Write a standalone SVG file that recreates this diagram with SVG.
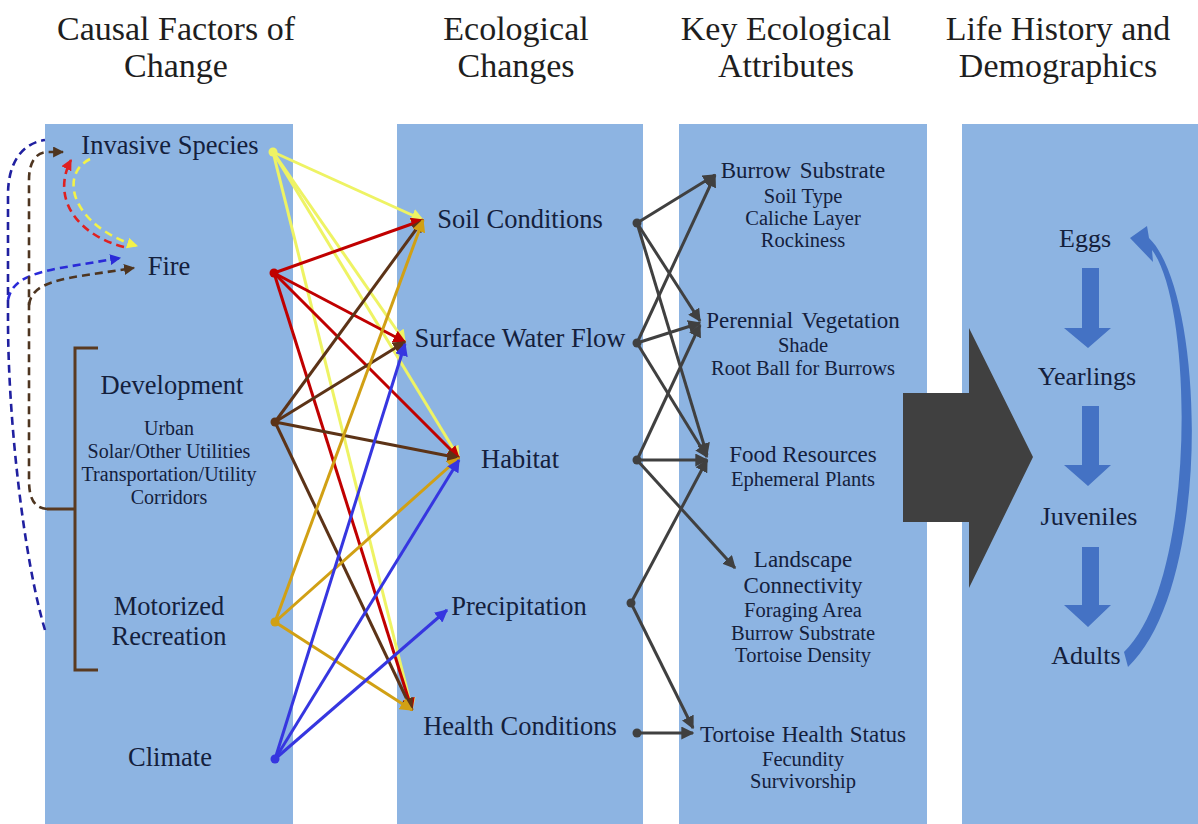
<svg xmlns="http://www.w3.org/2000/svg" width="1198" height="824" viewBox="0 0 1198 824">
<style>
.panel{fill:#8DB4E2}
text{font-family:"Liberation Serif","Times New Roman",serif;fill:#14203C;text-anchor:middle}
.hd{font-size:34px;fill:#1E1E1E}
.n1{font-size:26.5px}
.s1{font-size:20px}
.n3{font-size:23px}
.s3{font-size:20.5px}
.n4{font-size:26px}
.c{fill:none;stroke-width:3}
.dash{fill:none;stroke-width:2.6;stroke-dasharray:8 5}
</style>
<defs>
<marker id="mY" viewBox="0 0 10 10" refX="9" refY="5" markerUnits="userSpaceOnUse" markerWidth="13" markerHeight="13" orient="auto"><path d="M0,0 L10,5 L0,10 z" fill="#EEF364"/></marker>
<marker id="mR" viewBox="0 0 10 10" refX="9" refY="5" markerUnits="userSpaceOnUse" markerWidth="13" markerHeight="13" orient="auto"><path d="M0,0 L10,5 L0,10 z" fill="#C00000"/></marker>
<marker id="mB" viewBox="0 0 10 10" refX="9" refY="5" markerUnits="userSpaceOnUse" markerWidth="13" markerHeight="13" orient="auto"><path d="M0,0 L10,5 L0,10 z" fill="#5C3317"/></marker>
<marker id="mG" viewBox="0 0 10 10" refX="9" refY="5" markerUnits="userSpaceOnUse" markerWidth="13" markerHeight="13" orient="auto"><path d="M0,0 L10,5 L0,10 z" fill="#D1A014"/></marker>
<marker id="mU" viewBox="0 0 10 10" refX="9" refY="5" markerUnits="userSpaceOnUse" markerWidth="13" markerHeight="13" orient="auto"><path d="M0,0 L10,5 L0,10 z" fill="#3636E0"/></marker>
<marker id="mK" viewBox="0 0 10 10" refX="9" refY="5" markerUnits="userSpaceOnUse" markerWidth="13" markerHeight="13" orient="auto"><path d="M0,0 L10,5 L0,10 z" fill="#404040"/></marker>
<marker id="dU" viewBox="0 0 10 10" refX="9" refY="5" markerUnits="userSpaceOnUse" markerWidth="11" markerHeight="11" orient="auto"><path d="M0,0 L10,5 L0,10 z" fill="#2A2AD8"/></marker>
<marker id="dB" viewBox="0 0 10 10" refX="9" refY="5" markerUnits="userSpaceOnUse" markerWidth="11" markerHeight="11" orient="auto"><path d="M0,0 L10,5 L0,10 z" fill="#4E3520"/></marker>
<marker id="dR" viewBox="0 0 10 10" refX="9" refY="5" markerUnits="userSpaceOnUse" markerWidth="11" markerHeight="11" orient="auto"><path d="M0,0 L10,5 L0,10 z" fill="#E02020"/></marker>
<marker id="dY" viewBox="0 0 10 10" refX="9" refY="5" markerUnits="userSpaceOnUse" markerWidth="11" markerHeight="11" orient="auto"><path d="M0,0 L10,5 L0,10 z" fill="#F2F24A"/></marker>
</defs>
<rect width="1198" height="824" fill="#FFFFFF"/>

<g id="headers">
<text class="hd" x="176" y="40">Causal Factors of</text>
<text class="hd" x="176" y="77">Change</text>
<text class="hd" x="516" y="40">Ecological</text>
<text class="hd" x="516" y="77">Changes</text>
<text class="hd" x="786" y="40">Key Ecological</text>
<text class="hd" x="786" y="77">Attributes</text>
<text class="hd" x="1058" y="40">Life History and</text>
<text class="hd" x="1058" y="77">Demographics</text>
</g>

<g id="panels">
<rect class="panel" x="45" y="124" width="248" height="700"/>
<rect class="panel" x="397" y="124" width="246" height="700"/>
<rect class="panel" x="679" y="124" width="248" height="700"/>
<rect class="panel" x="962" y="124" width="236" height="700"/>
</g>

<g id="bracket">
<path d="M98,348 L75,348 L75,670 L98,670 M47,509 L75,509" fill="none" stroke="#5A3A20" stroke-width="3"/>
</g>

<g id="connectors">
<path class="dash" stroke="#2020A0" d="M45,630 C24,560 8,420 8,320 L8,195 C8,160 24,143 45,140"/>
<path class="dash" stroke="#2A2AD8" d="M8,300 C12,280 30,274 60,268 L120,258" marker-end="url(#dU)"/>
<path class="dash" stroke="#4E3520" d="M47,509 C35,508 29,500 29,480 L29,180 C29,162 36,153 46,152 L63,152" marker-end="url(#dB)"/>
<path class="dash" stroke="#4E3520" d="M29,305 C31,287 50,281 80,276 L134,268" marker-end="url(#dB)"/>
<path class="dash" stroke="#E02020" d="M124,247 C80,236 50,200 71,160" marker-end="url(#dR)"/>
<path class="dash" stroke="#F2F24A" d="M90,159 C58,175 72,226 137,246" marker-end="url(#dY)"/>

<g stroke="#EEF364" class="c">
<line x1="273" y1="152" x2="423" y2="220" marker-end="url(#mY)"/>
<line x1="273" y1="152" x2="405" y2="342" marker-end="url(#mY)"/>
<line x1="273" y1="152" x2="459" y2="458" marker-end="url(#mY)"/>
<line x1="273" y1="152" x2="412" y2="710" marker-end="url(#mY)"/>
</g>
<g stroke="#C00000" class="c">
<line x1="274" y1="273" x2="423" y2="220" marker-end="url(#mR)"/>
<line x1="274" y1="273" x2="405" y2="342" marker-end="url(#mR)"/>
<line x1="274" y1="273" x2="459" y2="458" marker-end="url(#mR)"/>
<line x1="274" y1="273" x2="412" y2="710" marker-end="url(#mR)"/>
</g>
<g stroke="#5C3317" class="c">
<line x1="275" y1="422" x2="423" y2="220" marker-end="url(#mB)"/>
<line x1="275" y1="422" x2="405" y2="342" marker-end="url(#mB)"/>
<line x1="275" y1="422" x2="459" y2="458" marker-end="url(#mB)"/>
<line x1="275" y1="422" x2="412" y2="710" marker-end="url(#mB)"/>
</g>
<g stroke="#D1A014" class="c">
<line x1="275" y1="622" x2="423" y2="220" marker-end="url(#mG)"/>
<line x1="275" y1="622" x2="459" y2="458" marker-end="url(#mG)"/>
<line x1="275" y1="622" x2="412" y2="710" marker-end="url(#mG)"/>
</g>
<g stroke="#3636E0" class="c">
<line x1="275" y1="759" x2="405" y2="344" marker-end="url(#mU)"/>
<line x1="275" y1="759" x2="459" y2="460" marker-end="url(#mU)"/>
<line x1="275" y1="759" x2="447" y2="610" marker-end="url(#mU)"/>
</g>
<g stroke="#404040" class="c">
<line x1="637" y1="223" x2="715" y2="175" marker-end="url(#mK)"/>
<line x1="637" y1="223" x2="700" y2="321" marker-end="url(#mK)"/>
<line x1="637" y1="223" x2="707" y2="455" marker-end="url(#mK)"/>
<line x1="637" y1="343" x2="715" y2="175" marker-end="url(#mK)"/>
<line x1="637" y1="343" x2="700" y2="323" marker-end="url(#mK)"/>
<line x1="637" y1="343" x2="707" y2="457" marker-end="url(#mK)"/>
<line x1="637" y1="460" x2="700" y2="325" marker-end="url(#mK)"/>
<line x1="637" y1="460" x2="707" y2="460" marker-end="url(#mK)"/>
<line x1="637" y1="460" x2="735" y2="568" marker-end="url(#mK)"/>
<line x1="631" y1="603" x2="707" y2="460" marker-end="url(#mK)"/>
<line x1="631" y1="603" x2="693" y2="728" marker-end="url(#mK)"/>
<line x1="637" y1="733" x2="693" y2="733" marker-end="url(#mK)"/>
</g>
<circle cx="273" cy="152" r="4.5" fill="#EEF364"/>
<circle cx="274" cy="273" r="4.5" fill="#C00000"/>
<circle cx="275" cy="422" r="4.5" fill="#5C3317"/>
<circle cx="275" cy="622" r="4.5" fill="#D1A014"/>
<circle cx="275" cy="759" r="4.5" fill="#3636E0"/>
<g fill="#404040">
<circle cx="637" cy="223" r="4.5"/>
<circle cx="637" cy="343" r="4.5"/>
<circle cx="637" cy="460" r="4.5"/>
<circle cx="631" cy="603" r="4.5"/>
<circle cx="637" cy="733" r="4.5"/>
</g>
<polygon points="903,393 969,393 969,328 1033,457 969,588 969,522 903,522" fill="#404040"/>
<g fill="#4472C4">
<polygon points="1082,268 1099,268 1099,328 1111,328 1088,348 1064,328 1082,328"/>
<polygon points="1082,406 1099,406 1099,465 1111,465 1088,486 1064,465 1082,465"/>
<polygon points="1082,547 1099,547 1099,605 1111,605 1088,627 1064,605 1082,605"/>
<path d="M1130,238 L1147,226 L1149,238 C1205,292 1214,585 1128,667 L1124,652 C1197,582 1194,305 1152,250 L1153,262 Z"/>
</g>
</g>

<g id="causal">
<g id="n-invasive"><text class="n1" x="170" y="154">Invasive  Species</text></g>
<g id="n-fire"><text class="n1" x="169" y="275">Fire</text></g>
<g id="n-development"><text class="n1" x="172" y="394">Development</text>
<text class="s1" x="169" y="435">Urban</text>
<text class="s1" x="169" y="458">Solar/Other Utilities</text>
<text class="s1" x="169" y="481">Transportation/Utility</text>
<text class="s1" x="169" y="504">Corridors</text></g>
<g id="n-motorized"><text class="n1" x="169" y="615">Motorized</text>
<text class="n1" x="169" y="645">Recreation</text></g>
<g id="n-climate"><text class="n1" x="170" y="766">Climate</text></g>
</g>

<g id="ecological">
<g id="n-soil"><text class="n1" x="520" y="228">Soil Conditions</text></g>
<g id="n-water"><text class="n1" x="520" y="347">Surface Water Flow</text></g>
<g id="n-habitat"><text class="n1" x="520" y="468">Habitat</text></g>
<g id="n-precip"><text class="n1" x="519" y="615">Precipitation</text></g>
<g id="n-health"><text class="n1" x="520" y="735">Health Conditions</text></g>
</g>

<g id="attributes">
<g id="n-burrow"><text class="n3" x="803" y="178" word-spacing="3">Burrow Substrate</text>
<text class="s3" x="803" y="203">Soil Type</text>
<text class="s3" x="803" y="225">Caliche Layer</text>
<text class="s3" x="803" y="247">Rockiness</text></g>
<g id="n-perennial"><text class="n3" x="803" y="328" word-spacing="3">Perennial Vegetation</text>
<text class="s3" x="803" y="352">Shade</text>
<text class="s3" x="803" y="375">Root Ball for Burrows</text></g>
<g id="n-food"><text class="n3" x="803" y="462">Food Resources</text>
<text class="s3" x="803" y="486">Ephemeral Plants</text></g>
<g id="n-landscape"><text class="n3" x="803" y="567">Landscape</text>
<text class="n3" x="803" y="593">Connectivity</text>
<text class="s3" x="803" y="617">Foraging Area</text>
<text class="s3" x="803" y="640">Burrow Substrate</text>
<text class="s3" x="803" y="662">Tortoise Density</text></g>
<g id="n-tortoise"><text class="n3" x="803" y="742" word-spacing="1">Tortoise Health Status</text>
<text class="s3" x="803" y="766">Fecundity</text>
<text class="s3" x="803" y="788">Survivorship</text></g>
</g>

<g id="lifehistory">
<g id="n-eggs"><text class="n4" x="1085" y="247">Eggs</text></g>
<g id="n-yearlings"><text class="n4" x="1087" y="385">Yearlings</text></g>
<g id="n-juveniles"><text class="n4" x="1089" y="525">Juveniles</text></g>
<g id="n-adults"><text class="n4" x="1086" y="664">Adults</text></g>
</g>
</svg>
